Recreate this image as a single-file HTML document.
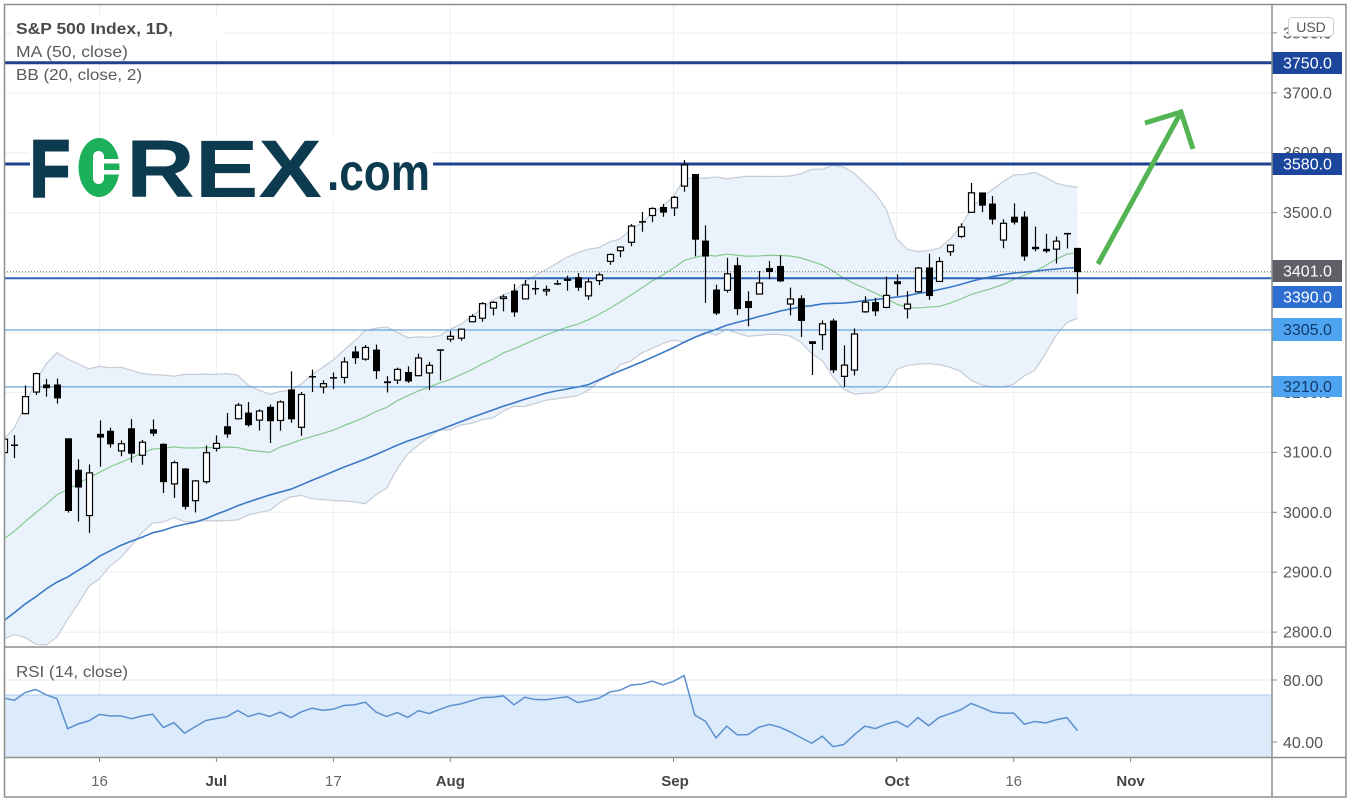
<!DOCTYPE html>
<html><head><meta charset="utf-8">
<style>
html,body{margin:0;padding:0;background:#fff;width:1353px;height:806px;overflow:hidden}
svg{display:block}
text{font-family:"Liberation Sans",sans-serif}
</style></head>
<body>
<svg id="svg" width="1353" height="806" viewBox="0 0 1353 806" xmlns="http://www.w3.org/2000/svg">
<defs>
<clipPath id="cm"><rect x="5" y="5" width="1266.5" height="641.5"/></clipPath>
<clipPath id="cr"><rect x="5" y="648" width="1266.5" height="109"/></clipPath>
</defs>
<rect x="0" y="0" width="1353" height="806" fill="#fff"/>
<g id="grid"></g>
<g clip-path="url(#cm)">
  <g id="ind"></g>
  <line x1="4" x2="1272" y1="386.9" y2="386.9" stroke="#4a8fd2" stroke-width="1"/>
  <line x1="4" x2="1272" y1="330.0" y2="330.0" stroke="#4a8fd2" stroke-width="1"/>
  <line x1="4" x2="1272" y1="278.3" y2="278.3" stroke="#2c63b5" stroke-width="2"/>
  <line x1="4" x2="1272" y1="271.7" y2="271.7" stroke="#6b6b70" stroke-width="1" stroke-dasharray="1,2"/>
  <line x1="4" x2="1272" y1="164.0" y2="164.0" stroke="#1e4290" stroke-width="3"/>
  <line x1="4" x2="1272" y1="62.8" y2="62.8" stroke="#1e4290" stroke-width="3"/>
  <g id="candles"></g>
  <!-- arrow -->
  <g stroke="#52b452" stroke-width="5" fill="none" stroke-linejoin="miter">
    <line x1="1098" y1="264" x2="1180" y2="114"/>
    <polyline points="1145,123 1181,112 1193,149"/>
  </g>
  <!-- logo -->
  <rect x="30" y="136" width="403" height="63" fill="#fff"/>
  <text x="30" y="196" font-size="80" font-weight="bold" fill="#0c3b4f" stroke="#0c3b4f" stroke-width="3" textLength="40" lengthAdjust="spacingAndGlyphs">F</text>
  <ellipse cx="99" cy="167.5" rx="20.5" ry="29.5" fill="#1cb05a"/>
  <rect x="93" y="151" width="11" height="33" rx="5.5" fill="#fff"/>
  <rect x="96" y="159" width="24" height="4.5" fill="#fff"/>
  <rect x="96" y="170" width="24" height="4.5" fill="#fff"/>
  <text x="126" y="197" font-size="82" font-weight="bold" fill="#0c3b4f" textLength="196" lengthAdjust="spacingAndGlyphs">REX</text>
  <text x="327" y="190" font-size="52" font-weight="bold" fill="#0c3b4f" textLength="103" lengthAdjust="spacingAndGlyphs">.com</text>
  <!-- legend -->
  <rect x="12" y="16" width="212" height="24" fill="#fff"/>
  <text x="16" y="34" font-size="16" font-weight="bold" fill="#4a4a4a" textLength="157" lengthAdjust="spacingAndGlyphs">S&amp;P 500 Index, 1D,</text>
  <text x="16" y="57" font-size="16" fill="#5a5a5a" textLength="112" lengthAdjust="spacingAndGlyphs">MA (50, close)</text>
  <text x="16" y="80" font-size="16" fill="#5a5a5a" textLength="126" lengthAdjust="spacingAndGlyphs">BB (20, close, 2)</text>
</g>

<!-- RSI pane -->
<rect x="5" y="695" width="1267" height="62" fill="#dcebfb"/>
<line x1="5" x2="1272" y1="695" y2="695" stroke="#a9cbee" stroke-width="1"/>
<g id="rsigrid"></g>
<g clip-path="url(#cr)"><g id="rsi"></g></g>
<text x="16" y="677" font-size="16" fill="#5a5a5a" textLength="112" lengthAdjust="spacingAndGlyphs">RSI (14, close)</text>

<!-- price axis -->
<rect x="1272.5" y="5" width="73" height="792" fill="#fff"/>
<g font-size="16" fill="#555">
  <text x="1283" y="38.4">3800.0</text>
  <text x="1283" y="98.3">3700.0</text>
  <text x="1283" y="158.2">3600.0</text>
  <text x="1283" y="218.1">3500.0</text>
  <text x="1283" y="397.8">3200.0</text>
  <text x="1283" y="457.7">3100.0</text>
  <text x="1283" y="517.8">3000.0</text>
  <text x="1283" y="577.7">2900.0</text>
  <text x="1283" y="637.6">2800.0</text>
  <text x="1283" y="686">80.00</text>
  <text x="1283" y="748">40.00</text>
</g>
<g stroke="#888" stroke-width="1">
  <line x1="1272" x2="1277" y1="32.9" y2="32.9"/>
  <line x1="1272" x2="1277" y1="92.8" y2="92.8"/>
  <line x1="1272" x2="1277" y1="212.6" y2="212.6"/>
  <line x1="1272" x2="1277" y1="452.4" y2="452.4"/>
  <line x1="1272" x2="1277" y1="512.3" y2="512.3"/>
  <line x1="1272" x2="1277" y1="572.2" y2="572.2"/>
  <line x1="1272" x2="1277" y1="632.1" y2="632.1"/>
  <line x1="1272" x2="1277" y1="680" y2="680"/>
  <line x1="1272" x2="1277" y1="742" y2="742"/>
</g>
<!-- USD -->
<rect x="1288.5" y="17.5" width="45" height="19" rx="4" fill="#fff" stroke="#cfcfcf"/>
<text x="1311" y="32" font-size="14" fill="#555" text-anchor="middle">USD</text>
<!-- price boxes -->
<g font-size="16">
  <rect x="1272" y="52" width="70" height="22" fill="#1c469c"/>
  <text x="1283" y="68.5" fill="#fff">3750.0</text>
  <rect x="1272" y="153" width="70" height="22" fill="#1c469c"/>
  <text x="1283" y="169.5" fill="#fff">3580.0</text>
  <rect x="1272" y="260" width="70" height="22" fill="#5e5f67"/>
  <text x="1283" y="276.5" fill="#fff">3401.0</text>
  <rect x="1272" y="286" width="70" height="22" fill="#2d6ed0"/>
  <text x="1283" y="302.5" fill="#fff">3390.0</text>
  <rect x="1272" y="318" width="70" height="23" fill="#4ea4f1"/>
  <text x="1283" y="335" fill="#123a6a">3305.0</text>
  <rect x="1272" y="376" width="70" height="21" fill="#4ea4f1"/>
  <text x="1283" y="392" fill="#123a6a">3210.0</text>
</g>

<!-- time axis -->
<g id="tticks" stroke="#888" stroke-width="1"></g>
<g font-size="15" text-anchor="middle">
  <text x="99.5" y="786" fill="#666">16</text>
  <text x="216.4" y="786" fill="#444" font-weight="bold">Jul</text>
  <text x="333.4" y="786" fill="#666">17</text>
  <text x="450.3" y="786" fill="#444" font-weight="bold">Aug</text>
  <text x="675" y="786" fill="#444" font-weight="bold">Sep</text>
  <text x="897" y="786" fill="#444" font-weight="bold">Oct</text>
  <text x="1013.7" y="786" fill="#666">16</text>
  <text x="1130.6" y="786" fill="#444" font-weight="bold">Nov</text>
</g>

<!-- frame -->
<g stroke="#8e8e8e" stroke-width="1.5" fill="none">
  <rect x="4.5" y="4.5" width="1341.5" height="792.5"/>
  <line x1="1272" x2="1272" y1="4.5" y2="797"/>
  <line x1="4.5" x2="1346" y1="647" y2="647"/>
  <line x1="4.5" x2="1346" y1="757.5" y2="757.5"/>
</g>
</svg>

<script>
(function(){
var NS="http://www.w3.org/2000/svg";
function el(p,tag,attrs){var e=document.createElementNS(NS,tag);for(var k in attrs)e.setAttribute(k,attrs[k]);p.appendChild(e);return e;}
var pre=[2746.56,2882.23,2741.38,2480.64,2711.02,2386.13,2529.19,2398.10,2409.39,2304.92,2237.40,2447.33,2475.56,2630.07,2541.47,2626.65,2584.59,2470.50,2526.90,2488.65,2663.68,2659.41,2749.98,2789.82,2761.63,2846.06,2783.36,2799.55,2874.56,2823.16,2736.56,2799.31,2797.80,2836.74,2878.48,2863.39,2939.51,2912.43,2830.71,2842.74,2868.44,2848.42,2881.19,2929.80,2930.19,2870.12,2820.00,2852.50,2863.70,2953.91,2922.94,2971.61,2948.51,2955.45,2991.77,3036.13,3029.73,3044.31,3055.73,3080.82];
var D=[
[3098.9,3130.94,3080.96,3122.87],[3111.56,3128.91,3090.41,3112.35],[3163.84,3211.72,3163.84,3193.93],[3199.92,3233.13,3196.0,3232.39],[3213.32,3222.71,3193.11,3207.18],[3213.42,3223.27,3181.49,3190.14],[3123.53,3123.53,2999.49,3002.1],[3071.04,3088.42,2984.47,3041.31],[2993.76,3079.76,2965.66,3066.59],
[3131.0,3153.45,3076.06,3124.74],[3136.13,3141.16,3108.03,3113.49],[3101.64,3120.0,3093.51,3115.34],[3140.29,3155.53,3083.11,3097.74],[3094.42,3120.92,3079.39,3117.86],[3138.7,3154.9,3127.12,3131.29],[3114.4,3115.01,3032.13,3050.33],[3046.6,3086.25,3024.01,3083.76],[3073.2,3073.73,3004.63,3009.05],[3018.59,3053.89,2999.74,3053.24],[3050.2,3111.51,3047.83,3100.29],
[3105.92,3128.44,3101.48,3115.86],[3143.64,3165.81,3124.52,3130.01],[3155.29,3182.59,3155.29,3179.72],[3166.44,3184.15,3142.93,3145.32],[3153.07,3171.8,3136.53,3169.94],[3176.17,3179.78,3115.7,3152.05],[3152.47,3186.82,3136.22,3185.04],[3205.08,3235.32,3149.43,3155.22],[3141.11,3200.95,3127.66,3197.52],[3225.98,3238.28,3200.76,3226.56],[3208.36,3220.39,3198.59,3215.57],[3224.21,3233.52,3205.65,3224.73],[3224.29,3258.61,3215.16,3251.84],[3268.52,3277.29,3247.77,3257.3],[3254.86,3279.32,3253.1,3276.02],[3271.64,3279.99,3222.66,3235.66],[3218.58,3227.26,3200.05,3215.63],[3219.84,3241.43,3214.25,3239.41],[3234.27,3243.72,3216.17,3218.44],[3227.22,3264.74,3227.22,3258.44],[3231.76,3250.92,3204.13,3246.22],[3270.45,3272.17,3220.26,3271.12],
[3288.26,3302.73,3284.53,3294.61],[3289.92,3306.84,3286.37,3306.51],[3317.37,3330.77,3317.37,3327.77],[3323.17,3351.03,3318.14,3349.16],[3340.05,3352.54,3328.72,3351.28],[3356.04,3363.29,3335.44,3360.47],[3370.34,3381.01,3326.44,3333.69],[3355.46,3387.89,3355.46,3380.35],[3372.95,3387.24,3363.35,3373.43],[3368.66,3378.51,3361.64,3372.85],[3380.86,3387.59,3379.22,3381.99],[3387.04,3395.06,3370.15,3389.78],[3392.51,3399.54,3369.66,3374.85],[3360.48,3390.8,3354.69,3385.51],[3386.01,3399.96,3379.31,3397.16],[3418.09,3432.09,3413.13,3431.28],[3435.95,3444.21,3425.84,3443.62],[3449.97,3481.07,3444.15,3478.73],[3485.14,3501.38,3468.35,3484.55],[3494.69,3509.23,3484.32,3508.01],[3509.73,3514.77,3493.25,3500.31],
[3507.44,3528.03,3494.6,3526.65],[3543.76,3588.11,3535.23,3580.84],[3564.74,3564.85,3427.41,3455.06],[3453.6,3479.15,3349.63,3426.96],[3371.88,3379.97,3329.27,3331.84],[3369.82,3424.77,3366.84,3398.96],[3412.56,3425.55,3329.25,3339.19],[3352.7,3368.95,3310.47,3340.97],[3363.56,3402.93,3363.56,3383.54],[3407.73,3419.48,3389.25,3401.2],[3411.23,3428.92,3384.45,3385.49],[3346.86,3375.17,3328.82,3357.01],[3357.38,3362.27,3292.4,3319.47],[3285.57,3285.57,3229.1,3281.06],[3295.75,3320.31,3270.95,3315.57],[3320.11,3323.35,3232.57,3236.92],[3226.14,3278.7,3209.45,3246.59],[3236.66,3306.88,3228.44,3298.46],[3333.9,3360.74,3332.91,3351.6],[3350.92,3357.92,3327.54,3335.47],[3341.21,3393.56,3340.47,3363.0],
[3385.87,3397.18,3361.39,3380.8],[3338.94,3369.1,3323.69,3348.42],[3367.27,3409.57,3367.27,3408.63],[3408.74,3431.56,3354.54,3360.97],[3384.56,3426.26,3384.56,3419.44],[3434.28,3447.28,3428.15,3446.83],[3459.67,3482.34,3458.07,3477.14],[3500.02,3549.85,3499.61,3534.22],[3534.01,3534.01,3500.86,3511.93],[3515.47,3527.94,3480.55,3488.67],[3453.72,3489.08,3440.89,3483.34],[3493.5,3515.76,3480.45,3483.81],[3493.66,3502.42,3419.93,3426.92],[3439.38,3476.93,3435.65,3443.12],[3439.91,3464.86,3433.06,3435.56],[3438.5,3460.53,3415.34,3453.49],[3464.9,3466.46,3440.45,3465.39],[3441.42,3441.42,3364.86,3400.97]
];
function X(j){return 99.5+10.63*(j-9);}
function Y(p){return 512.3-(p-3000)*0.599;}
function R(v){return 680+(80-v)*1.55;}
var C=pre.concat(D.map(function(d){return d[3];}));
var off=pre.length;

var g=document.getElementById('grid');
for(var p=2800;p<=3800;p+=100){var y=Y(p);el(g,'line',{x1:4,x2:1272,y1:y,y2:y,stroke:'#eceef2','stroke-width':1});}
var vx=[99.5,216.4,333.4,450.3,673.5,896.7,1013.7,1130.6];
var tt=document.getElementById('tticks');
vx.forEach(function(x){el(g,'line',{x1:x,x2:x,y1:5,y2:757,stroke:'#eceef2','stroke-width':1});el(tt,'line',{x1:x,x2:x,y1:758,y2:762});});
var rg=document.getElementById('rsigrid');
[80,40].forEach(function(v){el(rg,'line',{x1:5,x2:1272,y1:R(v),y2:R(v),stroke:'#e4e8ee','stroke-width':1});});

var up=[],lo=[],mid=[],ma=[];
for(var j=0;j<D.length;j++){
  var k=j+off,s=0,i;
  for(i=k-19;i<=k;i++)s+=C[i];var m=s/20,v=0;
  for(i=k-19;i<=k;i++)v+=(C[i]-m)*(C[i]-m);var sd=Math.sqrt(v/20);
  var s5=0;for(i=k-49;i<=k;i++)s5+=C[i];
  var x=X(j).toFixed(2);
  up.push(x+','+Y(m+2*sd).toFixed(2));lo.push(x+','+Y(m-2*sd).toFixed(2));
  mid.push(x+','+Y(m).toFixed(2));ma.push(x+','+Y(s5/50).toFixed(2));
}
var ind=document.getElementById('ind');
el(ind,'polygon',{points:up.join(' ')+' '+lo.slice().reverse().join(' '),fill:'#eaf3fc'});
el(ind,'polyline',{points:up.join(' '),fill:'none',stroke:'#c6ccd5','stroke-width':1.2});
el(ind,'polyline',{points:lo.join(' '),fill:'none',stroke:'#c6ccd5','stroke-width':1.2});
el(ind,'polyline',{points:mid.join(' '),fill:'none',stroke:'#86c98f','stroke-width':1.2});
el(ind,'polyline',{points:ma.join(' '),fill:'none',stroke:'#3b78c6','stroke-width':1.6});

var cg=document.getElementById('candles');
for(var j=0;j<D.length;j++){
  var d=D[j],cx=Math.round(X(j));
  el(cg,'line',{x1:cx+0.5,x2:cx+0.5,y1:Y(d[1]),y2:Y(d[2]),stroke:'#000','stroke-width':1.2});
  var yt=Y(Math.max(d[0],d[3])),yb=Y(Math.min(d[0],d[3]));
  if(yb-yt<1.5){el(cg,'line',{x1:cx-3,x2:cx+4,y1:(yt+yb)/2,y2:(yt+yb)/2,stroke:'#000','stroke-width':1.5});continue;}
  if(d[3]<d[0]) el(cg,'rect',{x:cx-3,y:yt,width:7,height:yb-yt,fill:'#000'});
  else el(cg,'rect',{x:cx-2.5,y:yt+0.5,width:6,height:Math.max(yb-yt-1,1),fill:'#fff',stroke:'#000','stroke-width':1.2});
}

var ag=0,al=0,rs=[];
for(var i=1;i<C.length;i++){
  var ch=C[i]-C[i-1],gn=ch>0?ch:0,ls=ch<0?-ch:0;
  if(i<=14){ag+=gn/14;al+=ls/14;}
  else{ag=(ag*13+gn)/14;al=(al*13+ls)/14;}
  rs[i]=al==0?100:100-100/(1+ag/al);
}
var rp=[];
for(var j=0;j<D.length;j++){rp.push(X(j).toFixed(2)+','+R(rs[j+off]).toFixed(2));}
el(document.getElementById('rsi'),'polyline',{points:rp.join(' '),fill:'none',stroke:'#5b8fcf','stroke-width':1.5});
})();
</script>
</body></html>
